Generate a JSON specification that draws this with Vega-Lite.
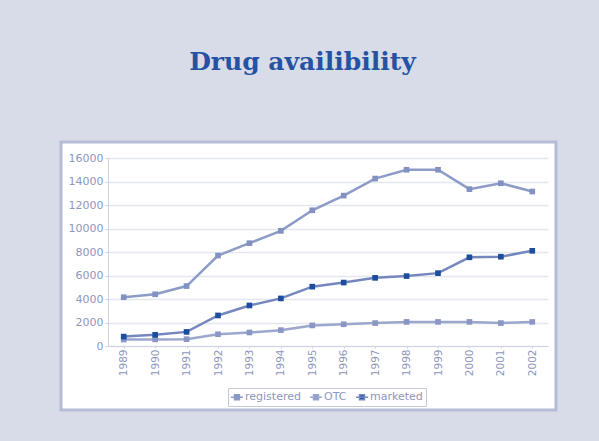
{
  "$schema": "https://vega.github.io/schema/vega-lite/v6.json",
  "width": 495,
  "height": 268,
  "autosize": {"type": "none"},
  "padding": {"left": 61, "top": 142, "right": 43, "bottom": 31},
  "background": "#d8dce8",
  "title": {
    "text": "Drug availibility",
    "font": "DejaVu Serif",
    "fontSize": 25,
    "fontWeight": "bold",
    "color": "#2552a3",
    "anchor": "middle",
    "frame": "group",
    "baseline": "alphabetic",
    "offset": 47,
    "dx": -6
  },
  "config": {
    "view": {"fill": "white", "stroke": "#b5bcd5", "strokeWidth": 3},
    "axis": {
      "labelFont": "DejaVu Sans",
      "labelColor": "#8e97bb",
      "domainColor": "#cfd3e3",
      "tickColor": "#cfd3e3",
      "title": null
    }
  },
  "data": {
    "values": [
      {"year": 1989, "series": "registered", "value": 4150},
      {"year": 1990, "series": "registered", "value": 4400},
      {"year": 1991, "series": "registered", "value": 5100},
      {"year": 1992, "series": "registered", "value": 7700},
      {"year": 1993, "series": "registered", "value": 8750},
      {"year": 1994, "series": "registered", "value": 9800},
      {"year": 1995, "series": "registered", "value": 11550},
      {"year": 1996, "series": "registered", "value": 12800},
      {"year": 1997, "series": "registered", "value": 14250},
      {"year": 1998, "series": "registered", "value": 15000},
      {"year": 1999, "series": "registered", "value": 15000},
      {"year": 2000, "series": "registered", "value": 13350},
      {"year": 2001, "series": "registered", "value": 13850},
      {"year": 2002, "series": "registered", "value": 13150},
      {"year": 1989, "series": "OTC", "value": 550},
      {"year": 1990, "series": "OTC", "value": 560},
      {"year": 1991, "series": "OTC", "value": 580},
      {"year": 1992, "series": "OTC", "value": 1000},
      {"year": 1993, "series": "OTC", "value": 1150},
      {"year": 1994, "series": "OTC", "value": 1350},
      {"year": 1995, "series": "OTC", "value": 1750},
      {"year": 1996, "series": "OTC", "value": 1850},
      {"year": 1997, "series": "OTC", "value": 1950},
      {"year": 1998, "series": "OTC", "value": 2050},
      {"year": 1999, "series": "OTC", "value": 2050},
      {"year": 2000, "series": "OTC", "value": 2050},
      {"year": 2001, "series": "OTC", "value": 1950},
      {"year": 2002, "series": "OTC", "value": 2050},
      {"year": 1989, "series": "marketed", "value": 800},
      {"year": 1990, "series": "marketed", "value": 950},
      {"year": 1991, "series": "marketed", "value": 1200},
      {"year": 1992, "series": "marketed", "value": 2600},
      {"year": 1993, "series": "marketed", "value": 3450},
      {"year": 1994, "series": "marketed", "value": 4050},
      {"year": 1995, "series": "marketed", "value": 5050},
      {"year": 1996, "series": "marketed", "value": 5400},
      {"year": 1997, "series": "marketed", "value": 5800},
      {"year": 1998, "series": "marketed", "value": 5950},
      {"year": 1999, "series": "marketed", "value": 6200},
      {"year": 2000, "series": "marketed", "value": 7550},
      {"year": 2001, "series": "marketed", "value": 7600},
      {"year": 2002, "series": "marketed", "value": 8100}
    ]
  },
  "encoding": {
    "x": {
      "field": "year",
      "type": "quantitative",
      "scale": {"domain": [1988.5, 2002.5], "range": [47, 487], "nice": false, "zero": false},
      "axis": {
        "offset": -64,
        "values": [1989, 1990, 1991, 1992, 1993, 1994, 1995, 1996, 1997, 1998, 1999, 2000, 2001, 2002],
        "format": "d",
        "labelAngle": 270,
        "labelFontSize": 10.5,
        "labelPadding": 1,
        "tickSize": 2,
        "grid": false
      }
    },
    "y": {
      "field": "value",
      "type": "quantitative",
      "scale": {"domain": [0, 16000], "range": [204, 16], "nice": false},
      "axis": {
        "offset": -47,
        "values": [0, 2000, 4000, 6000, 8000, 10000, 12000, 14000, 16000],
        "format": "d",
        "labelFontSize": 11,
        "labelPadding": 2,
        "tickSize": 3,
        "gridColor": "#e4e7f0",
        "gridWidth": 1.5
      }
    }
  },
  "layer": [
    {
      "mark": {"type": "line", "strokeWidth": 2.5},
      "encoding": {
        "stroke": {
          "field": "series",
          "type": "nominal",
          "scale": {"domain": ["registered", "OTC", "marketed"], "range": ["#8d9bc7", "#9ba7cd", "#7587bf"]},
          "legend": {
            "orient": "none",
            "legendX": 167,
            "legendY": 246,
            "direction": "horizontal",
            "title": null,
            "strokeColor": "#c4c9dc",
            "fillColor": "white",
            "padding": 3,
            "labelFont": "DejaVu Sans",
            "labelFontSize": 11,
            "labelColor": "#8e97bb",
            "labelOffset": 2,
            "columnPadding": 6,
            "symbolType": "M-1.2,0H1.2M-0.5,-0.5H0.5V0.5H-0.5Z",
            "symbolSize": 100,
            "symbolStrokeWidth": 1.5
          }
        }
      }
    },
    {
      "mark": {"type": "point", "shape": "square", "filled": true, "size": 32, "opacity": 1},
      "encoding": {
        "fill": {
          "field": "series",
          "type": "nominal",
          "scale": {"domain": ["registered", "OTC", "marketed"], "range": ["#8191c2", "#8a97c5", "#1d4e9e"]},
          "legend": {
            "orient": "none",
            "legendX": 167,
            "legendY": 246,
            "direction": "horizontal",
            "title": null,
            "strokeColor": "#c4c9dc",
            "fillColor": "white",
            "padding": 3,
            "labelFont": "DejaVu Sans",
            "labelFontSize": 11,
            "labelColor": "#8e97bb",
            "labelOffset": 2,
            "columnPadding": 6,
            "symbolType": "M-1.2,0H1.2M-0.5,-0.5H0.5V0.5H-0.5Z",
            "symbolSize": 100,
            "symbolStrokeWidth": 1.5
          }
        }
      }
    }
  ]
}
